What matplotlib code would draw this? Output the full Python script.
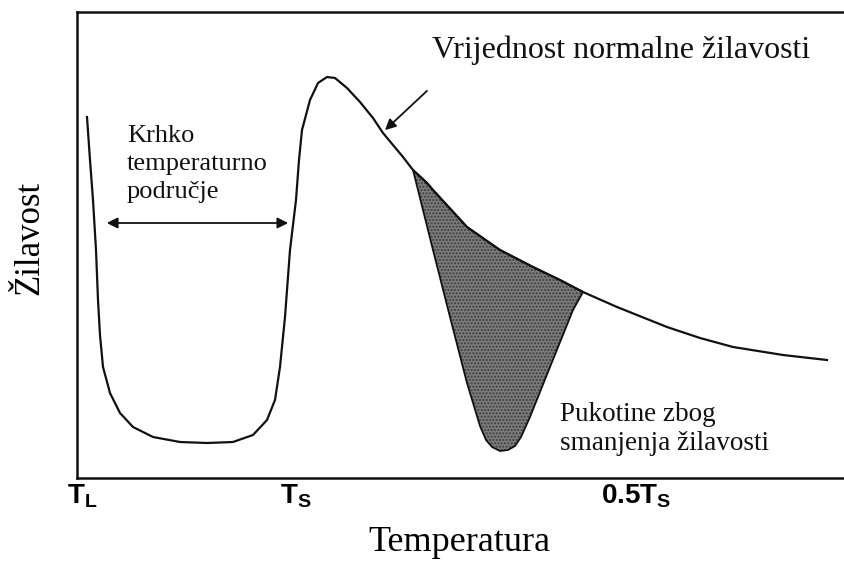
import numpy as np
import matplotlib
matplotlib.use('Agg')
import matplotlib.pyplot as plt

plt.rcParams['font.family'] = ['Liberation Serif', 'DejaVu Serif']
plt.rcParams['mathtext.fontset'] = 'custom'
plt.rcParams['mathtext.rm'] = 'Liberation Sans'
plt.rcParams['mathtext.bf'] = 'Liberation Sans:bold'

# temperature (arbitrary units) and toughness of the normal curve
temp = [87, 90, 93, 96, 98, 100, 103, 110, 120, 133, 153, 180, 207, 233,
        253, 267, 275, 280, 285, 290, 296, 299, 302, 310, 318, 327, 335, 347,
        360, 373, 383, 403, 413, 427, 433, 467, 500, 533, 560, 583, 617, 667,
        700, 733, 783, 827]
tough = [361, 318, 278, 228, 178, 143, 111, 85, 65, 51, 41, 36, 35, 36,
         43, 58, 78, 111, 161, 228, 278, 318, 348, 378, 395, 401, 400, 390,
         376, 360, 345, 321, 308, 295, 288, 251, 228, 211, 198, 186, 171, 151,
         140, 131, 123, 118]

# lower edge of the toughness drop (cracking region)
crack_temp = [413, 433, 450, 467, 480, 486, 492, 500, 508, 515, 521, 530, 550, 573, 583]
crack_tough = [308, 228, 161, 95, 52, 38, 31, 27, 28, 32, 41, 61, 111, 168, 186]

tick_pos = [82, 296, 636]
tick_labels = [r'$\mathbf{T_L}$', r'$\mathbf{T_S}$', r'$\mathbf{0.5T_S}$']

fig = plt.figure(figsize=(8.44, 5.66), dpi=100)
ax = fig.add_axes([77/844, 88/566, 1 - 77/844, 466/566])

ax.plot(temp, tough, color='#111111', lw=1.6, solid_joinstyle='round')

# shaded region: upper part of the normal curve + drop curve
temp_a = np.array(temp)
tough_a = np.array(tough)
m = (temp_a >= crack_temp[0]) & (temp_a <= crack_temp[-1])
poly_x = list(temp_a[m]) + crack_temp[::-1]
poly_y = list(tough_a[m]) + crack_tough[::-1]
ax.fill(poly_x, poly_y, facecolor='#7c7c7c', edgecolor='#3c3c3c', hatch='.....', lw=0)
ax.fill(poly_x, poly_y, facecolor='none', edgecolor='#111111', lw=1.3, joinstyle='round')

# annotations
ax.annotate('', xy=(383, 346), xytext=(429, 389),
            arrowprops=dict(arrowstyle='-|>', color='#111111', lw=1.3, mutation_scale=16))
ax.text(432, 428, 'Vrijednost normalne žilavosti', fontsize=23, va='center', ha='left', color='#111111')

ax.annotate('', xy=(104, 255), xytext=(291, 255),
            arrowprops=dict(arrowstyle='<|-|>', color='#111111', lw=1.3, mutation_scale=16))
ax.text(127, 353, 'Krhko\ntemperaturno\npodručje', fontsize=19, va='top', ha='left',
        linespacing=1.35, color='#111111')

ax.text(560, 76, 'Pukotine zbog\nsmanjenja žilavosti', fontsize=19.5, va='top', ha='left',
        linespacing=1.2, color='#111111')

ax.set_xlim(77, 844)
ax.set_ylim(0, 466)
ax.set_xticks(tick_pos)
ax.set_xticklabels(tick_labels, fontsize=20)
ax.set_yticks([])
ax.tick_params(axis='x', length=0, pad=3)

ax.set_xlabel('Temperatura', fontsize=26)
ax.xaxis.set_label_coords(0.499, -0.103)
ax.set_ylabel('Žilavost', fontsize=25)
ax.yaxis.set_label_coords(-0.04, 0.515)

ax.spines['right'].set_visible(False)
for s in ['left', 'bottom', 'top']:
    ax.spines[s].set_linewidth(1.8)
    ax.spines[s].set_color('#111111')

fig.savefig('out.png', dpi=100)
